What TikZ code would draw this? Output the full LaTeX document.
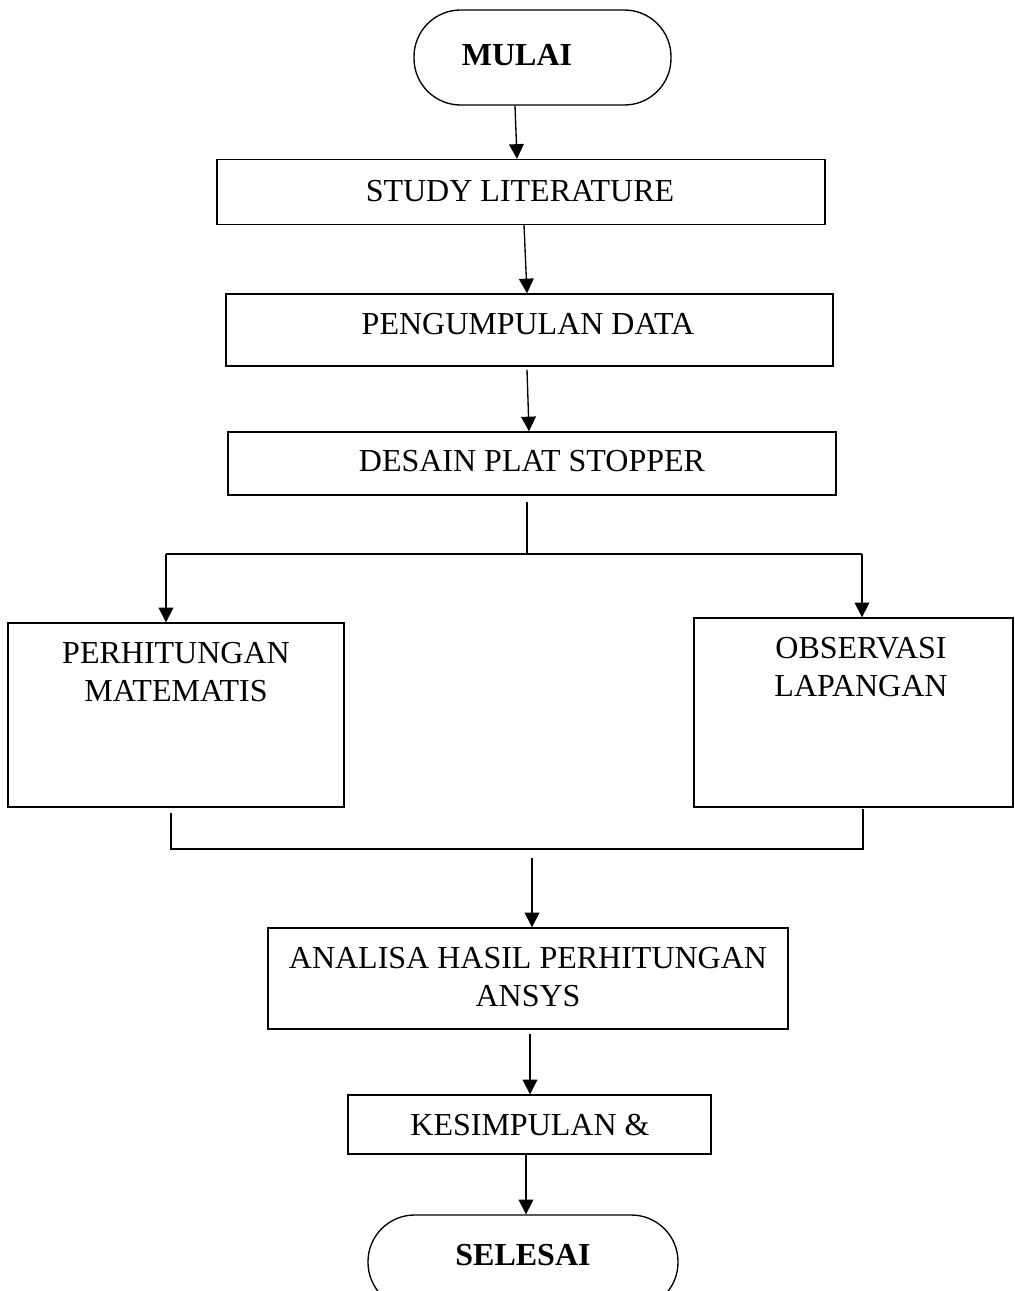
\documentclass[tikz,border=0pt]{standalone}
\usepackage{fontspec}
\setmainfont{Liberation Serif}
\usetikzlibrary{arrows.meta,calc}
\begin{document}
\begin{tikzpicture}[x=0.75pt,y=-0.75pt,
  line width=1pt,
  boxshape/.style={draw,line width=1pt,inner sep=0pt},
  termshape/.style={draw,line width=1pt,inner sep=0pt,rounded corners=35pt},
  lbl/.style={inner sep=0pt,align=center,font=\fontsize{24pt}{28.5pt}\selectfont},
  blbl/.style={inner sep=0pt,align=center,font=\fontsize{24pt}{28.5pt}\selectfont\bfseries},
  arr/.style={-{Triangle[width=11pt,length=11pt]}}]
\useasboundingbox (0,0) rectangle (1014,1291);
\clip (0,0) rectangle (1014,1291);
% shapes
\node[termshape,minimum width=192.75pt,minimum height=71.25pt] (mulai) at (542.5,57.5) {};
\node[boxshape,minimum width=456pt,minimum height=48.75pt] (study) at (521,192) {};
\node[boxshape,minimum width=455.25pt,minimum height=54pt] (peng) at (529.5,330) {};
\node[boxshape,minimum width=456pt,minimum height=47.25pt] (desain) at (532,463.5) {};
\node[boxshape,minimum width=252pt,minimum height=138pt] (perh) at (176,715) {};
\node[boxshape,minimum width=239.25pt,minimum height=141.75pt] (obs) at (853.5,712.5) {};
\node[boxshape,minimum width=390pt,minimum height=75.75pt] (analisa) at (528,978.5) {};
\node[boxshape,minimum width=272.25pt,minimum height=44.25pt] (kes) at (529.5,1124.5) {};
\node[termshape,minimum width=232.5pt,minimum height=70.5pt] (selesai) at (523,1262) {};
% texts
\node[blbl] (tmulai) at (517,55) {MULAI};
\node[lbl] (tstudy) at (520,191) {STUDY LITERATURE};
\node[lbl] (tpeng) at (528,324) {PENGUMPULAN DATA};
\node[lbl] (tdesain) at (532,461) {DESAIN PLAT STOPPER};
\node[lbl] (tperh) at (176,672) {PERHITUNGAN\\MATEMATIS};
\node[lbl] (tobs) at (861,667) {OBSERVASI\\LAPANGAN};
\node[lbl] (tanalisa) at (528,977) {ANALISA HASIL PERHITUNGAN\\ANSYS};
\node[lbl] (tkes) at (530,1125) {KESIMPULAN \&};
\node[blbl] (tselesai) at (523,1255) {SELESAI};
% junction coordinates
\coordinate (split) at (527,554);
\coordinate (splitL) at (166,554);
\coordinate (splitR) at (862,554);
\coordinate (mergeL) at (171,849);
\coordinate (mergeR) at (863,849);
\coordinate (mergeOut) at (532,858);
% connectors
\draw[arr] (mulai.south -| 515,0) -- (study.north -| 517,0);
\draw[arr] (study.south -| 524,0) -- (peng.north -| 527,0);
\draw[arr] ($(peng.south -| 527,0)+(0,3)$) -- (desain.north -| 529,0);
\draw ($(desain.south -| split)+(0,6)$) -- (split);
\draw (splitL) -- (splitR);
\draw[arr] (splitL) -- (perh.north -| splitL);
\draw[arr] (splitR) -- (obs.north -| splitR);
\draw ($(perh.south -| mergeL)+(0,5)$) -- (mergeL) -- (mergeR) -- ($(obs.south -| mergeR)+(0,1)$);
\draw[arr] (mergeOut) -- (analisa.north -| mergeOut);
\draw[arr] ($(analisa.south -| 530,0)+(0,4)$) -- (kes.north -| 530,0);
\draw[arr] (kes.south -| 526,0) -- (selesai.north -| 526,0);
\end{tikzpicture}
\end{document}
